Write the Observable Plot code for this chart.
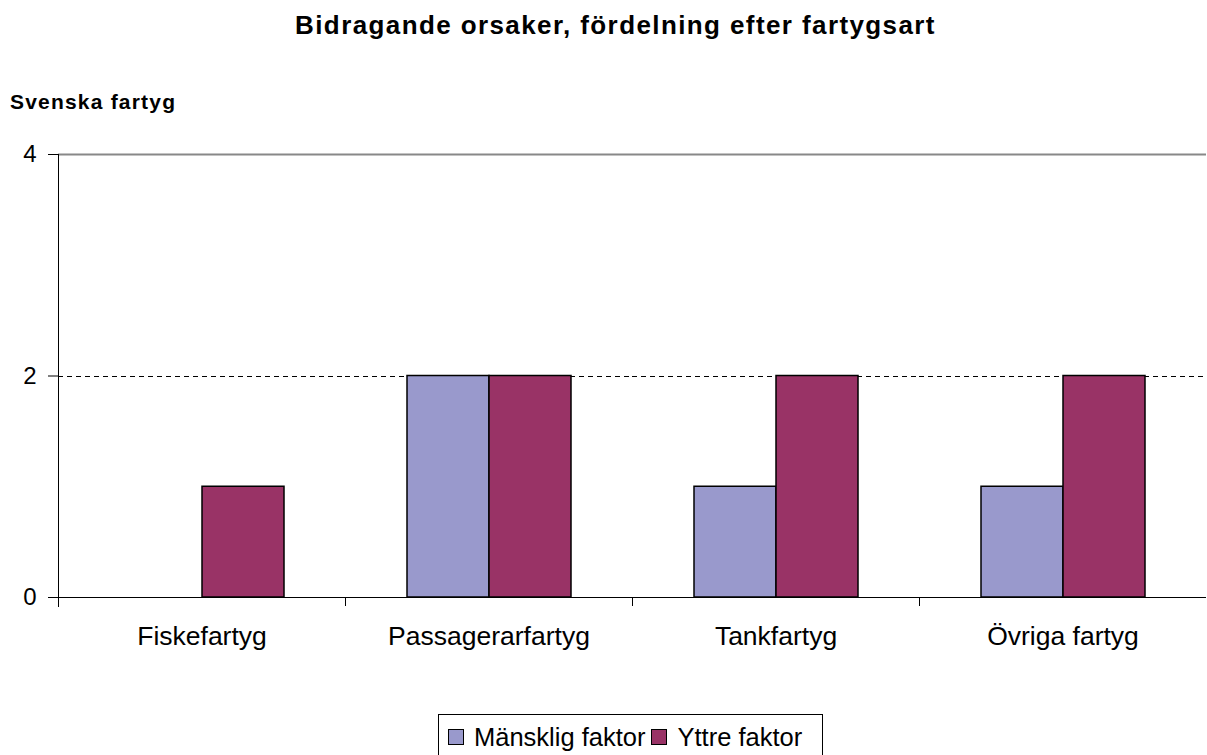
<!DOCTYPE html>
<html>
<head>
<meta charset="utf-8">
<script src="https://cdn.jsdelivr.net/npm/d3@7"></script>
<script src="https://cdn.jsdelivr.net/npm/@observablehq/plot@0.6"></script>
<style>
  body { margin: 0; background: #fff; font-family: "Liberation Sans", Arial, sans-serif; }
  #wrap { position: relative; width: 1207px; height: 755px; overflow: hidden; }
  #title { position: absolute; top: 10px; left: 12px; width: 1207px; text-align: center; font-weight: bold; font-size: 26px; letter-spacing: 1.4px; }
  #sub { position: absolute; top: 90px; left: 10px; font-weight: bold; font-size: 21px; letter-spacing: 1.2px; }
  #chart { position: absolute; top: 130px; left: 0; }
  #legend { position: absolute; top: 714px; left: 438px; width: 374px; border: 1px solid #000; padding: 8px 0 12px 9px; font-size: 25.5px; white-space: nowrap; }
  #legend span.sw { display: inline-block; width: 14px; height: 14px; border: 1px solid #000; margin-right: 10px; vertical-align: 1px; }
  #legend span.item { margin-right: 6px; }
</style>
</head>
<body>
<div id="wrap">
  <div id="title">Bidragande orsaker, fördelning efter fartygsart</div>
  <div id="sub">Svenska fartyg</div>
  <div id="chart"></div>
  <div id="legend"></div>
</div>
<script>
const categories = ["Fiskefartyg", "Passagerarfartyg", "Tankfartyg", "Övriga fartyg"];
const seriesNames = ["Mänsklig faktor", "Yttre faktor"];
const manskligValues = [0, 2, 1, 1];
const yttreValues = [1, 2, 2, 2];
const colors = ["#9999CC", "#993366"];
const yTicks = [0, 2, 4];

const data = [];
categories.forEach((c, i) => {
  data.push({cat: c, series: seriesNames[0], value: manskligValues[i]});
  data.push({cat: c, series: seriesNames[1], value: yttreValues[i]});
});

const chart = Plot.plot({
  width: 1207,
  height: 527,
  marginTop: 24,
  marginBottom: 60,
  marginLeft: 57,
  marginRight: 0,
  style: {fontFamily: "'Liberation Sans', Arial, sans-serif", fontSize: "24px", color: "#000", background: "#fff"},
  fx: {domain: categories, padding: 0, label: null, axis: null},
  x: {domain: seriesNames, paddingInner: 0, paddingOuter: 0.75, axis: null},
  y: {domain: [0, 4], label: null, axis: null},
  color: {domain: seriesNames, range: colors},
  marks: [
    Plot.ruleY([4], {stroke: "#888", strokeWidth: 2}),
    Plot.ruleY([2], {stroke: "#000", strokeWidth: 1, strokeDasharray: "5,4", shapeRendering: "crispEdges"}),
    Plot.barY(data.filter(d => d.value > 0), {fx: "cat", x: "series", y: "value", fill: "series", stroke: "#000", strokeWidth: 1.5}),
    Plot.ruleY([0], {stroke: "#000", strokeWidth: 1}),
    Plot.frame({anchor: "left", facetAnchor: "left", stroke: "#000", insetBottom: -9}),
    Plot.frame({anchor: "left", stroke: "#000", insetTop: 443, insetBottom: -8}),
    Plot.axisY({ticks: yTicks, tickSize: 10, tickPadding: 12, fontSize: 24, tickFormat: d => String(d)}),
    Plot.axisFx({anchor: "bottom", tickSize: 0, tickPadding: 29, fontSize: 26.5, label: null})
  ]
});
document.getElementById("chart").appendChild(chart);

const legend = document.getElementById("legend");
seriesNames.forEach((s, i) => {
  const item = document.createElement("span");
  item.className = "item";
  const sw = document.createElement("span");
  sw.className = "sw";
  sw.style.background = colors[i];
  item.appendChild(sw);
  item.appendChild(document.createTextNode(s));
  legend.appendChild(item);
});
</script>
</body>
</html>
